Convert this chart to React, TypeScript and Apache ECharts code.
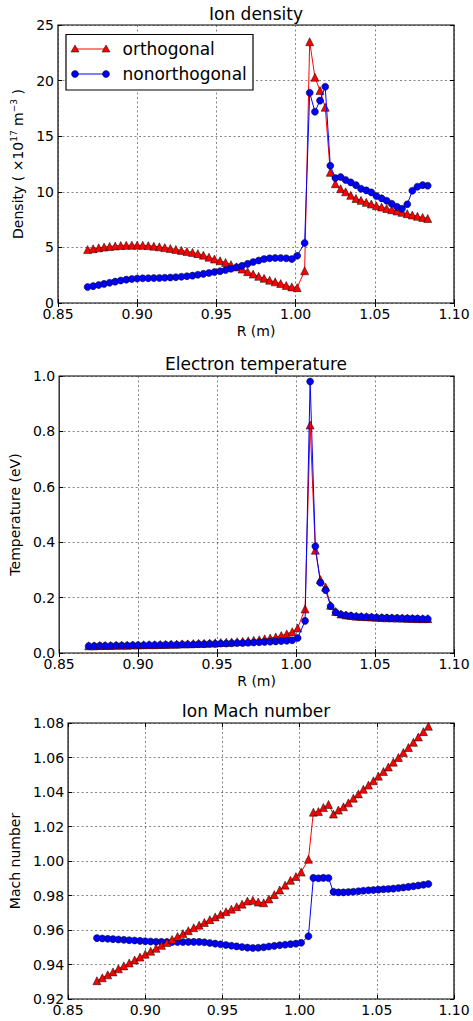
import React, { useEffect, useRef } from "react";
import * as echarts from "echarts";

// Radial positions (m)
const R_INNER = [
  0.8687, 0.8722, 0.8757, 0.8791, 0.8826, 0.8861, 0.8896, 0.8931, 0.8966, 0.9,
  0.9035, 0.907, 0.9105, 0.914, 0.9174, 0.9209, 0.9244, 0.9279, 0.9314, 0.9349,
  0.9383, 0.9418, 0.9453, 0.9488, 0.9523, 0.9558, 0.9592, 0.9627, 0.9662, 0.9697,
  0.9732, 0.9767, 0.9801, 0.9836, 0.9871, 0.9906, 0.9941, 0.9976, 1.001,
];
const R_OUTER = [
  1.0057, 1.0089, 1.0122, 1.0154, 1.0187, 1.0219, 1.0251, 1.0284, 1.0316, 1.0348,
  1.0381, 1.0413, 1.0446, 1.0478, 1.051, 1.0543, 1.0575, 1.0607, 1.064, 1.0672,
  1.0705, 1.0737, 1.0769, 1.0802, 1.0834,
];
const R = [...R_INNER, ...R_OUTER];

// Ion density (x1e17 m^-3)
const densOrth = [
  4.8, 4.88, 4.96, 5.03, 5.09, 5.13, 5.17, 5.19, 5.2, 5.2,
  5.19, 5.16, 5.11, 5.05, 4.98, 4.9, 4.82, 4.73, 4.64, 4.55,
  4.44, 4.3, 4.12, 3.95, 3.8, 3.65, 3.45, 3.25, 3.05, 2.82,
  2.6, 2.4, 2.22, 2.05, 1.9, 1.75, 1.58, 1.45, 1.38,
  2.9, 23.5, 20.3, 19.1, 17.6, 11.75, 10.73, 10.28, 10.0, 9.68,
  9.4, 9.23, 9.05, 8.9, 8.75, 8.63, 8.5, 8.39, 8.27, 8.15,
  8.03, 7.91, 7.8, 7.7, 7.6,
];
const densNonorth = [
  1.44, 1.52, 1.62, 1.72, 1.82, 1.92, 2.02, 2.1, 2.16, 2.2,
  2.22, 2.23, 2.24, 2.25, 2.27, 2.29, 2.32, 2.36, 2.41, 2.46,
  2.54, 2.62, 2.7, 2.78, 2.86, 2.96, 3.08, 3.22, 3.35, 3.52,
  3.68, 3.82, 3.95, 4.02, 4.05, 4.04, 4.02, 3.95, 4.25,
  5.4, 18.9, 17.2, 18.2, 19.45, 12.35, 11.24, 11.33, 11.06, 10.85,
  10.6, 10.28, 10.13, 9.95, 9.62, 9.41, 9.2, 8.93, 8.66, 8.48,
  8.88, 10.1, 10.46, 10.6, 10.55,
];

// Electron temperature (eV)
const teOrth = [
  0.026, 0.026, 0.027, 0.027, 0.027, 0.028, 0.028, 0.028, 0.029, 0.029,
  0.03, 0.03, 0.03, 0.031, 0.031, 0.032, 0.032, 0.033, 0.033, 0.034,
  0.035, 0.035, 0.036, 0.037, 0.038, 0.039, 0.04, 0.041, 0.042, 0.044,
  0.046, 0.048, 0.051, 0.054, 0.058, 0.063, 0.069, 0.077, 0.09,
  0.159, 0.823, 0.371, 0.265, 0.238, 0.172, 0.15, 0.141, 0.137, 0.135,
  0.133, 0.132, 0.131, 0.13, 0.129, 0.128, 0.127, 0.127, 0.126, 0.126,
  0.125, 0.125, 0.124, 0.124, 0.124,
];
const teNonorth = [
  0.025, 0.025, 0.026, 0.026, 0.026, 0.027, 0.027, 0.027, 0.028, 0.028,
  0.028, 0.029, 0.029, 0.029, 0.03, 0.03, 0.03, 0.031, 0.031, 0.031,
  0.032, 0.032, 0.033, 0.033, 0.034, 0.034, 0.035, 0.036, 0.036, 0.037,
  0.038, 0.039, 0.04, 0.041, 0.042, 0.043, 0.044, 0.046, 0.054,
  0.116, 0.98, 0.385, 0.254, 0.227, 0.169, 0.147, 0.139, 0.136, 0.134,
  0.132, 0.131, 0.13, 0.129, 0.128, 0.127, 0.127, 0.126, 0.126, 0.125,
  0.125, 0.124, 0.124, 0.123, 0.123,
];

// Ion Mach number
const machOrth = [
  0.9306, 0.9323, 0.934, 0.9357, 0.9375, 0.9392, 0.9409, 0.9426, 0.9443, 0.946,
  0.9477, 0.9494, 0.9511, 0.9528, 0.9545, 0.9562, 0.9579, 0.9596, 0.9613, 0.9628,
  0.9644, 0.966, 0.9676, 0.9691, 0.9706, 0.9721, 0.9735, 0.975, 0.9768, 0.9772,
  0.9762, 0.9758, 0.978, 0.9805, 0.9832, 0.986, 0.9888, 0.991, 0.9936,
  1.001, 1.0283, 1.0287, 1.031, 1.0328, 1.0272, 1.0295, 1.0314, 1.0337, 1.0364,
  1.0389, 1.0416, 1.044, 1.0465, 1.0492, 1.0519, 1.0545, 1.0573, 1.06, 1.0629,
  1.0658, 1.0688, 1.0719, 1.075, 1.0781,
];
const machNonorth = [
  0.9553, 0.9551, 0.9549, 0.9547, 0.9545, 0.9543, 0.9541, 0.9539, 0.9537, 0.9535,
  0.9533, 0.9532, 0.9531, 0.953, 0.953, 0.953, 0.953, 0.9531, 0.9531, 0.9531,
  0.9529, 0.9525, 0.9521, 0.9517, 0.9513, 0.9509, 0.9505, 0.9501, 0.9498, 0.9496,
  0.9497, 0.95, 0.9504, 0.9508, 0.9512, 0.9515, 0.9518, 0.9521, 0.9526,
  0.9564, 0.9902, 0.99, 0.9902, 0.9901, 0.9821, 0.9818, 0.9818, 0.982, 0.9822,
  0.9825, 0.9828, 0.983, 0.9832, 0.9834, 0.9836, 0.9838, 0.984, 0.9843, 0.9846,
  0.985, 0.9854, 0.9858, 0.9862, 0.9867,
];

const TITLES = ["Ion density", "Electron temperature", "Ion Mach number"];
const LEGEND = ["orthogonal", "nonorthogonal"];
const X_TICKS = { min: 0.85, max: 1.1, interval: 0.05 };
const Y_TICKS = [
  { min: 0, max: 25, interval: 5, digits: 0 },
  { min: 0, max: 1, interval: 0.2, digits: 1 },
  { min: 0.92, max: 1.08, interval: 0.02, digits: 2 },
];

const FONT = "DejaVu Sans";
const GRIDS = [
  { left: 58, top: 25, width: 396, height: 278 },
  { left: 58, top: 376, width: 396, height: 277 },
  { left: 58, top: 723, width: 396, height: 276 },
];
const Y_NAMES = [
  "{a|Density ( ×10}{s|17}{a| m}{s|−3}{a| )}",
  "Temperature (eV)",
  "Mach number",
];
const Y_GAPS = [26, 29, 40];

const zip = (ys: number[]) => R.map((r, i) => [r, ys[i]]);

export default function App() {
  const ref = useRef<HTMLDivElement>(null);
  useEffect(() => {
    if (!ref.current) return;
    const chart = echarts.init(ref.current, undefined, { renderer: "svg" });

    const gridLine = { show: true, lineStyle: { color: "#333", width: 0.6, type: [2, 2.5] } };
    const xAxis: any[] = [];
    const yAxis: any[] = [];
    GRIDS.forEach((g, i) => {
      xAxis.push({
        gridIndex: i,
        type: "value",
        position: "bottom",
        ...X_TICKS,
        axisLine: { show: false },
        axisTick: { show: true, inside: true, length: 4, lineStyle: { color: "#000" } },
        axisLabel: {
          fontSize: 14,
          fontFamily: FONT,
          color: "#000",
          margin: 4,
          showMinLabel: true,
          showMaxLabel: true,
          formatter: (v: number) => v.toFixed(2),
        },
        splitLine: gridLine,
        name: i < 2 ? "R (m)" : "",
        nameLocation: "middle",
        nameGap: 21,
        nameTextStyle: { fontSize: 14, fontFamily: FONT, color: "#000" },
      });
      xAxis.push({
        gridIndex: i,
        type: "value",
        position: "top",
        ...X_TICKS,
        axisLine: { show: false },
        axisTick: { show: true, inside: true, length: 4, lineStyle: { color: "#000" } },
        axisLabel: { show: false },
        splitLine: { show: false },
      });
      const yt = Y_TICKS[i];
      yAxis.push({
        gridIndex: i,
        type: "value",
        position: "left",
        min: yt.min,
        max: yt.max,
        interval: yt.interval,
        axisLine: { show: false },
        axisTick: { show: true, inside: true, length: 4, lineStyle: { color: "#000" } },
        axisLabel: {
          fontSize: 14,
          fontFamily: FONT,
          color: "#000",
          margin: 4,
          showMinLabel: true,
          showMaxLabel: true,
          formatter: (v: number) => v.toFixed(yt.digits),
        },
        splitLine: gridLine,
        name: Y_NAMES[i],
        nameLocation: "middle",
        nameRotate: 90,
        nameGap: Y_GAPS[i],
        nameTextStyle: {
          fontSize: 14,
          fontFamily: FONT,
          color: "#000",
          rich: {
            a: { fontSize: 14, fontFamily: FONT, color: "#000", lineHeight: 18 },
            s: { fontSize: 9, fontFamily: FONT, color: "#000", verticalAlign: "top", lineHeight: 12 },
          },
        },
      });
      yAxis.push({
        gridIndex: i,
        type: "value",
        position: "right",
        min: yt.min,
        max: yt.max,
        interval: yt.interval,
        axisLine: { show: false },
        axisTick: { show: true, inside: true, length: 4, lineStyle: { color: "#000" } },
        axisLabel: { show: false },
        splitLine: { show: false },
      });
    });

    const red = (data: number[], idx: number, z: number) => ({
      name: LEGEND[0],
      type: "line",
      xAxisIndex: idx * 2,
      yAxisIndex: idx * 2,
      data: zip(data),
      symbol: "triangle",
      symbolSize: 8,
      showAllSymbol: true,
      lineStyle: { color: "#ff0000", width: 1 },
      itemStyle: { color: "#ff0000", borderColor: "#000", borderWidth: 0.5 },
      z,
    });
    const blue = (data: number[], idx: number, z: number) => ({
      name: LEGEND[1],
      type: "line",
      xAxisIndex: idx * 2,
      yAxisIndex: idx * 2,
      data: zip(data),
      symbol: "circle",
      symbolSize: 7,
      showAllSymbol: true,
      lineStyle: { color: "#0000ff", width: 1 },
      itemStyle: { color: "#0000ff", borderColor: "#000", borderWidth: 0.5 },
      z,
    });

    const titleY = [14, 364, 711];
    const graphics: any[] = TITLES.map((t, i) => ({
      type: "text",
      x: GRIDS[i].left + GRIDS[i].width / 2,
      y: titleY[i],
      style: {
        text: t,
        fontSize: 17,
        fontFamily: FONT,
        fill: "#000",
        align: "center",
        verticalAlign: "middle",
        textAlign: "center",
        textVerticalAlign: "middle",
      },
      z: 10,
    }));

    // legend box
    const lgY = [49, 74];
    const tri = (cx: number, cy: number) => ({
      type: "polygon",
      shape: { points: [[cx, cy - 4], [cx + 4, cy + 3], [cx - 4, cy + 3]] },
      style: { fill: "#ff0000", stroke: "#000", lineWidth: 0.5 },
      z: 12,
    });
    const dot = (cx: number, cy: number) => ({
      type: "circle",
      shape: { cx, cy, r: 3.5 },
      style: { fill: "#0000ff", stroke: "#000", lineWidth: 0.5 },
      z: 12,
    });
    graphics.push({
      type: "rect",
      shape: { x: 66, y: 34.5, width: 187, height: 55.5 },
      style: { fill: "#fff", stroke: "#000", lineWidth: 1.2 },
      z: 10,
    });
    graphics.push({
      type: "line",
      shape: { x1: 75, y1: lgY[0], x2: 106, y2: lgY[0] },
      style: { stroke: "#ff0000", lineWidth: 1 },
      z: 11,
    });
    graphics.push(tri(75, lgY[0]), tri(106, lgY[0]));
    graphics.push({
      type: "line",
      shape: { x1: 75, y1: lgY[1], x2: 106, y2: lgY[1] },
      style: { stroke: "#0000ff", lineWidth: 1 },
      z: 11,
    });
    graphics.push(dot(75, lgY[1]), dot(106, lgY[1]));
    LEGEND.forEach((t, i) =>
      graphics.push({
        type: "text",
        x: 122.5,
        y: lgY[i],
        style: {
          text: t,
          fontSize: 17,
          fontFamily: FONT,
          fill: "#000",
          align: "left",
          verticalAlign: "middle",
          textAlign: "left",
          textVerticalAlign: "middle",
        },
        z: 12,
      })
    );

    chart.setOption({
      animation: false,
      backgroundColor: "#fff",
      textStyle: { fontFamily: FONT },
      grid: GRIDS.map((g) => ({
        ...g,
        show: true,
        borderColor: "#000",
        borderWidth: 1.2,
        backgroundColor: "transparent",
        containLabel: false,
      })),
      xAxis,
      yAxis,
      series: [
        red(densOrth, 0, 2),
        blue(densNonorth, 0, 3),
        red(teOrth, 1, 2),
        blue(teNonorth, 1, 3),
        blue(machNonorth, 2, 2),
        red(machOrth, 2, 3),
      ],
      graphic: graphics,
    });
    return () => chart.dispose();
  }, []);
  return (
    <div
      ref={ref}
      style={{ position: "absolute", left: 0, top: 0, width: 473, height: 1021, background: "#fff" }}
    />
  );
}
